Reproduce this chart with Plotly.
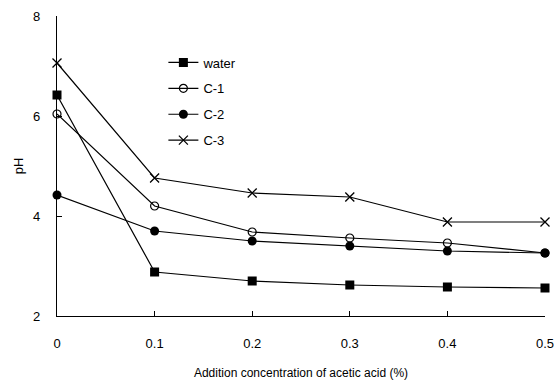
import plotly.graph_objects as go

conc = [0, 0.1, 0.2, 0.3, 0.4, 0.5]
x_tick_vals = [0, 0.1, 0.2, 0.3, 0.4, 0.5]
x_tick_text = ["0", "0.1", "0.2", "0.3", "0.4", "0.5"]
y_tick_vals = [2, 4, 6, 8]

water = [6.42, 2.88, 2.70, 2.62, 2.58, 2.56]
c1 = [6.04, 4.20, 3.68, 3.56, 3.46, 3.26]
c2 = [4.42, 3.70, 3.50, 3.40, 3.30, 3.26]
c3 = [7.06, 4.76, 4.46, 4.38, 3.88, 3.88]

series = [
    ("water", water, dict(symbol="square", size=9, color="black")),
    ("C-1", c1, dict(symbol="circle-open", size=8, color="black", line=dict(width=1.2, color="black"))),
    ("C-2", c2, dict(symbol="circle", size=9, color="black")),
    ("C-3", c3, dict(symbol="x-thin-open", size=9, color="black", line=dict(width=1.3, color="black"))),
]

fig = go.Figure()
for name, vals, mk in series:
    fig.add_trace(go.Scatter(
        x=conc, y=vals, name=name, mode="lines+markers",
        line=dict(color="black", width=1.2),
        marker=mk, cliponaxis=False, legendgroup=name,
    ))

font = dict(family="Liberation Sans, Arial, sans-serif", size=13, color="black")

fig.update_layout(
    width=559, height=384,
    margin=dict(l=57, r=14, t=16, b=68, autoexpand=False),
    paper_bgcolor="white", plot_bgcolor="white",
    font=font,
    showlegend=True,
    legend=dict(x=0.218, y=0.895, xanchor="left", yanchor="top",
                bgcolor="rgba(0,0,0,0)", font=dict(size=13),
                tracegroupgap=6, traceorder="grouped", itemwidth=30),
    xaxis=dict(
        range=[0, 0.5], tickvals=x_tick_vals, ticktext=x_tick_text,
        showline=True, linecolor="black", linewidth=1.2,
        ticks="inside", ticklen=5, tickcolor="black",
        showgrid=False, zeroline=False, automargin=False,
        title=dict(text="Addition concentration of acetic acid (%)", standoff=18, font=dict(size=12)),
        ticklabelstandoff=15,
    ),
    yaxis=dict(
        range=[2, 8], tickvals=y_tick_vals,
        showline=True, linecolor="black", linewidth=1.2,
        ticks="inside", ticklen=5, tickcolor="black",
        showgrid=False, zeroline=False, automargin=False,
        title=dict(text="pH", standoff=6, font=dict(size=13)),
        ticklabelstandoff=13,
    ),
)

fig.write_html("out.html", post_script="document.body.style.margin='0';",
               config={"displayModeBar": False})
